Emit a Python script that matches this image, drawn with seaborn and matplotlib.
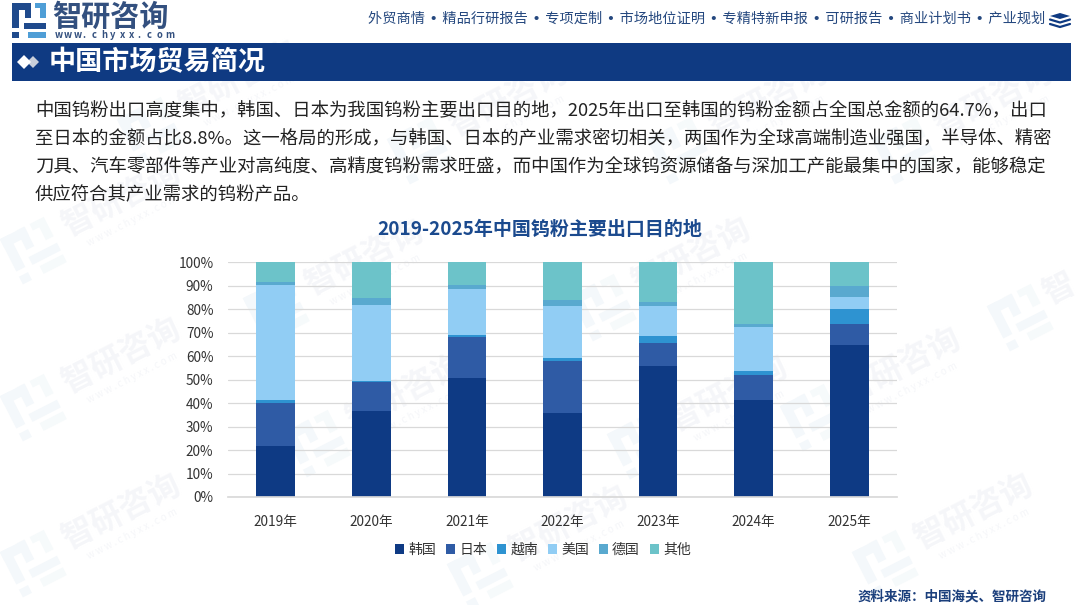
import numpy as np
import pandas as pd
import matplotlib
matplotlib.use("Agg")
import matplotlib.pyplot as plt
from matplotlib.patches import Polygon, Rectangle
from matplotlib.transforms import Affine2D
import seaborn as sns

YEARS = ["2019年", "2020年", "2021年", "2022年", "2023年", "2024年", "2025年"]

# shares, bottom of the stack first
KOREA = [21.9, 36.5, 50.6, 35.8, 55.8, 41.5, 64.7]
JAPAN = [18.3, 12.6, 17.7, 22.3, 9.8, 10.5, 8.8]
VIETNAM = [1.1, 0.5, 0.9, 1.3, 2.9, 1.7, 6.6]
USA = [49.0, 32.2, 19.3, 22.1, 13.0, 18.7, 5.1]
GERMANY = [1.3, 2.9, 1.7, 2.6, 1.7, 1.3, 4.7]
OTHER = [8.4, 15.3, 9.8, 15.9, 16.8, 26.3, 10.1]

SERIES = ["韩国", "日本", "越南", "美国", "德国", "其他"]
COLORS = ["#0e3a84", "#2f5ba5", "#2e93d1", "#91cdf4", "#59a9cf", "#6cc3c9"]

NAV = "外贸商情 • 精品行研报告 • 专项定制 • 市场地位证明 • 专精特新申报 • 可研报告 • 商业计划书 • 产业规划"
BODY = [
    "中国钨粉出口高度集中，韩国、日本为我国钨粉主要出口目的地，2025年出口至韩国的钨粉金额占全国总金额的64.7%，出口",
    "至日本的金额占比8.8%。这一格局的形成，与韩国、日本的产业需求密切相关，两国作为全球高端制造业强国，半导体、精密",
    "刀具、汽车零部件等产业对高纯度、高精度钨粉需求旺盛，而中国作为全球钨资源储备与深加工产能最集中的国家，能够稳定",
    "供应符合其产业需求的钨粉产品。",
]

# centre of each faint logo stamp, in pixels
STAMPS = [(33, 250), (33, 407), (33, 563), (276, 309), (317, 443), (603, 307),
          (813, 417), (885, 563), (480, 575), (150, 130), (420, 150), (680, 150),
          (905, 150), (640, 445)]
STAMP_ANGLE = 27

# logo pieces relative to its top left corner: x, y, w, h, dark or not
LOGO = [(0, 0, 19, 7, True), (0, 0, 7, 25, True), (13, 0, 6, 15, True),
        (0, 29, 7, 6, True), (23, 0, 5, 5, False), (28, 0, 6, 15, False),
        (12, 20, 22, 6, True), (16, 29, 18, 6, False)]

NAVY = "#0f3a82"

sns.set_theme(style="white")
plt.rcParams["font.family"] = ["Noto Sans CJK SC", "DejaVu Sans"]

df = pd.DataFrame(
    [KOREA, JAPAN, VIETNAM, USA, GERMANY, OTHER], index=SERIES, columns=YEARS
).T

fig = plt.figure(figsize=(10.8, 6.05), dpi=100, facecolor="white")

# page furniture lives in an axes that counts in pixels
page = fig.add_axes([0, 0, 1, 1], zorder=0)
page.set_xlim(0, 1080)
page.set_ylim(605, 0)
page.axis("off")


# same pieces for the real logo and the watermark, only placed differently
def draw_logo(tf, dark, light, zorder):
    for x, y, w, h, is_dark in LOGO:
        page.add_patch(Rectangle((x, y), w, h, color=dark if is_dark else light,
                                 lw=0, transform=tf + page.transData, zorder=zorder))


# watermark first, everything else sits on top of it
along = np.array([np.cos(np.radians(STAMP_ANGLE)), -np.sin(np.radians(STAMP_ANGLE))])
down = np.array([-along[1], along[0]])
for x, y in STAMPS:
    draw_logo(Affine2D().translate(-17, -17).scale(1.45).rotate_deg(-STAMP_ANGLE).translate(x, y),
              "#f4f8fb", "#f6fafb", 0)
    centre = np.array([x, y]) + 102 * along - 5 * down
    page.text(*centre, "智研咨询", fontsize=23, fontweight="bold", color="#f5f6f9",
              rotation=STAMP_ANGLE, rotation_mode="anchor", ha="center", va="center", zorder=0)
    web = centre + 24 * down
    page.text(*web, "w w w . c h y x x . c o m", fontsize=7, color="#f5f6f9",
              rotation=STAMP_ANGLE, rotation_mode="anchor", ha="center", va="center", zorder=0)
# the stamp at the right edge runs off the page, only its first sign shows
draw_logo(Affine2D().translate(-17, -17).scale(1.45).rotate_deg(-STAMP_ANGLE).translate(1020, 317),
          "#f4f8fb", "#f6fafb", 0)
page.text(1060, 289, "智", fontsize=23, fontweight="bold", color="#f5f6f9",
          rotation=STAMP_ANGLE, ha="center", va="center", zorder=0)

# logo
draw_logo(Affine2D().translate(12, 3), "#1f4a8c", "#4f9ed6", 3)
page.text(52, 17, "智研咨询", fontsize=21, fontweight="bold", color="#33507f",
          va="center", ha="left", zorder=3)
for i, ch in enumerate("www.chyxx.com"):
    page.text(55 + i * 9.2, 35, ch, fontsize=6.8, fontweight="bold", color="#33507f",
              va="center", ha="left", zorder=3)

page.text(368, 19, NAV, fontsize=10.22, color="#25487f", va="center", ha="left",
          family=["DejaVu Sans", "Noto Sans CJK SC"], zorder=3)
page.add_patch(Polygon([(1050, 16), (1060, 13), (1070, 16), (1060, 19)], color=NAVY, lw=0, zorder=3))
for dy in (19.5, 24):
    page.plot([1050, 1060, 1070], [dy, dy + 3, dy], color=NAVY, lw=1.6, zorder=3)

# banner
page.add_patch(Rectangle((12, 43), 1059, 38, color=NAVY, lw=0, zorder=2))
page.add_patch(Polygon([(27, 62), (33, 56), (39, 62), (33, 68)], color="#c9cfda", lw=0, zorder=3))
page.add_patch(Polygon([(17, 62), (24, 55), (31, 62), (24, 69)], color="white", lw=0, zorder=3))
page.text(49, 62, "中国市场贸易简况", fontsize=19.5, fontweight="bold", color="white",
          va="center", ha="left", zorder=3)

for y, line in zip((111, 139, 167, 195), BODY):
    page.text(35, y, line, fontsize=13.22, color="#222222", va="center", ha="left", zorder=3)

page.text(540, 229, "2019-2025年中国钨粉主要出口目的地", fontsize=13.7, fontweight="bold",
          color="#1b4a8e", va="center", ha="center", zorder=3)
page.text(1047, 596, "资料来源：中国海关、智研咨询", fontsize=9.75, fontweight="bold",
          color="#1b3f7c", va="center", ha="right", zorder=3)

# the chart itself
ax = fig.add_axes([228 / 1080, 1 - 497 / 605, 669 / 1080, 234.7 / 605], zorder=1)
ax.patch.set_alpha(0)
bottom = pd.Series(0.0, index=YEARS)
for name, color in zip(SERIES, COLORS):
    sns.barplot(x=YEARS, y=df[name].values, bottom=bottom.values, color=color,
                width=0.405, label=name, ax=ax, zorder=2, saturation=1, linewidth=0)
    bottom = bottom + df[name]

ax.set_xlim(-0.5, 6.5)
ax.set_ylim(0, 100)
ax.set_yticks(range(0, 101, 10))
ax.set_yticklabels([f"{v}%" for v in range(0, 101, 10)])
ax.yaxis.grid(True, color="#d9d9d9", lw=0.9, zorder=0)
ax.set_axisbelow(True)
ax.tick_params(axis="both", length=0, labelsize=9.8, labelcolor="#333333")
ax.tick_params(axis="y", pad=10.5)
ax.tick_params(axis="x", pad=13)
ax.spines[["top", "left", "right"]].set_visible(False)
ax.spines["bottom"].set_color("#d9d9d9")
ax.set_xlabel("")
ax.set_ylabel("")

leg = ax.legend(loc="center", bbox_to_anchor=(543 / 1080, 1 - 550 / 605),
                bbox_transform=fig.transFigure, ncol=6, frameon=False, fontsize=10,
                handlelength=0.65, handleheight=0.65, handletextpad=0.3,
                columnspacing=0.72, labelcolor="#333333")

fig.savefig("out.png", dpi=100)
